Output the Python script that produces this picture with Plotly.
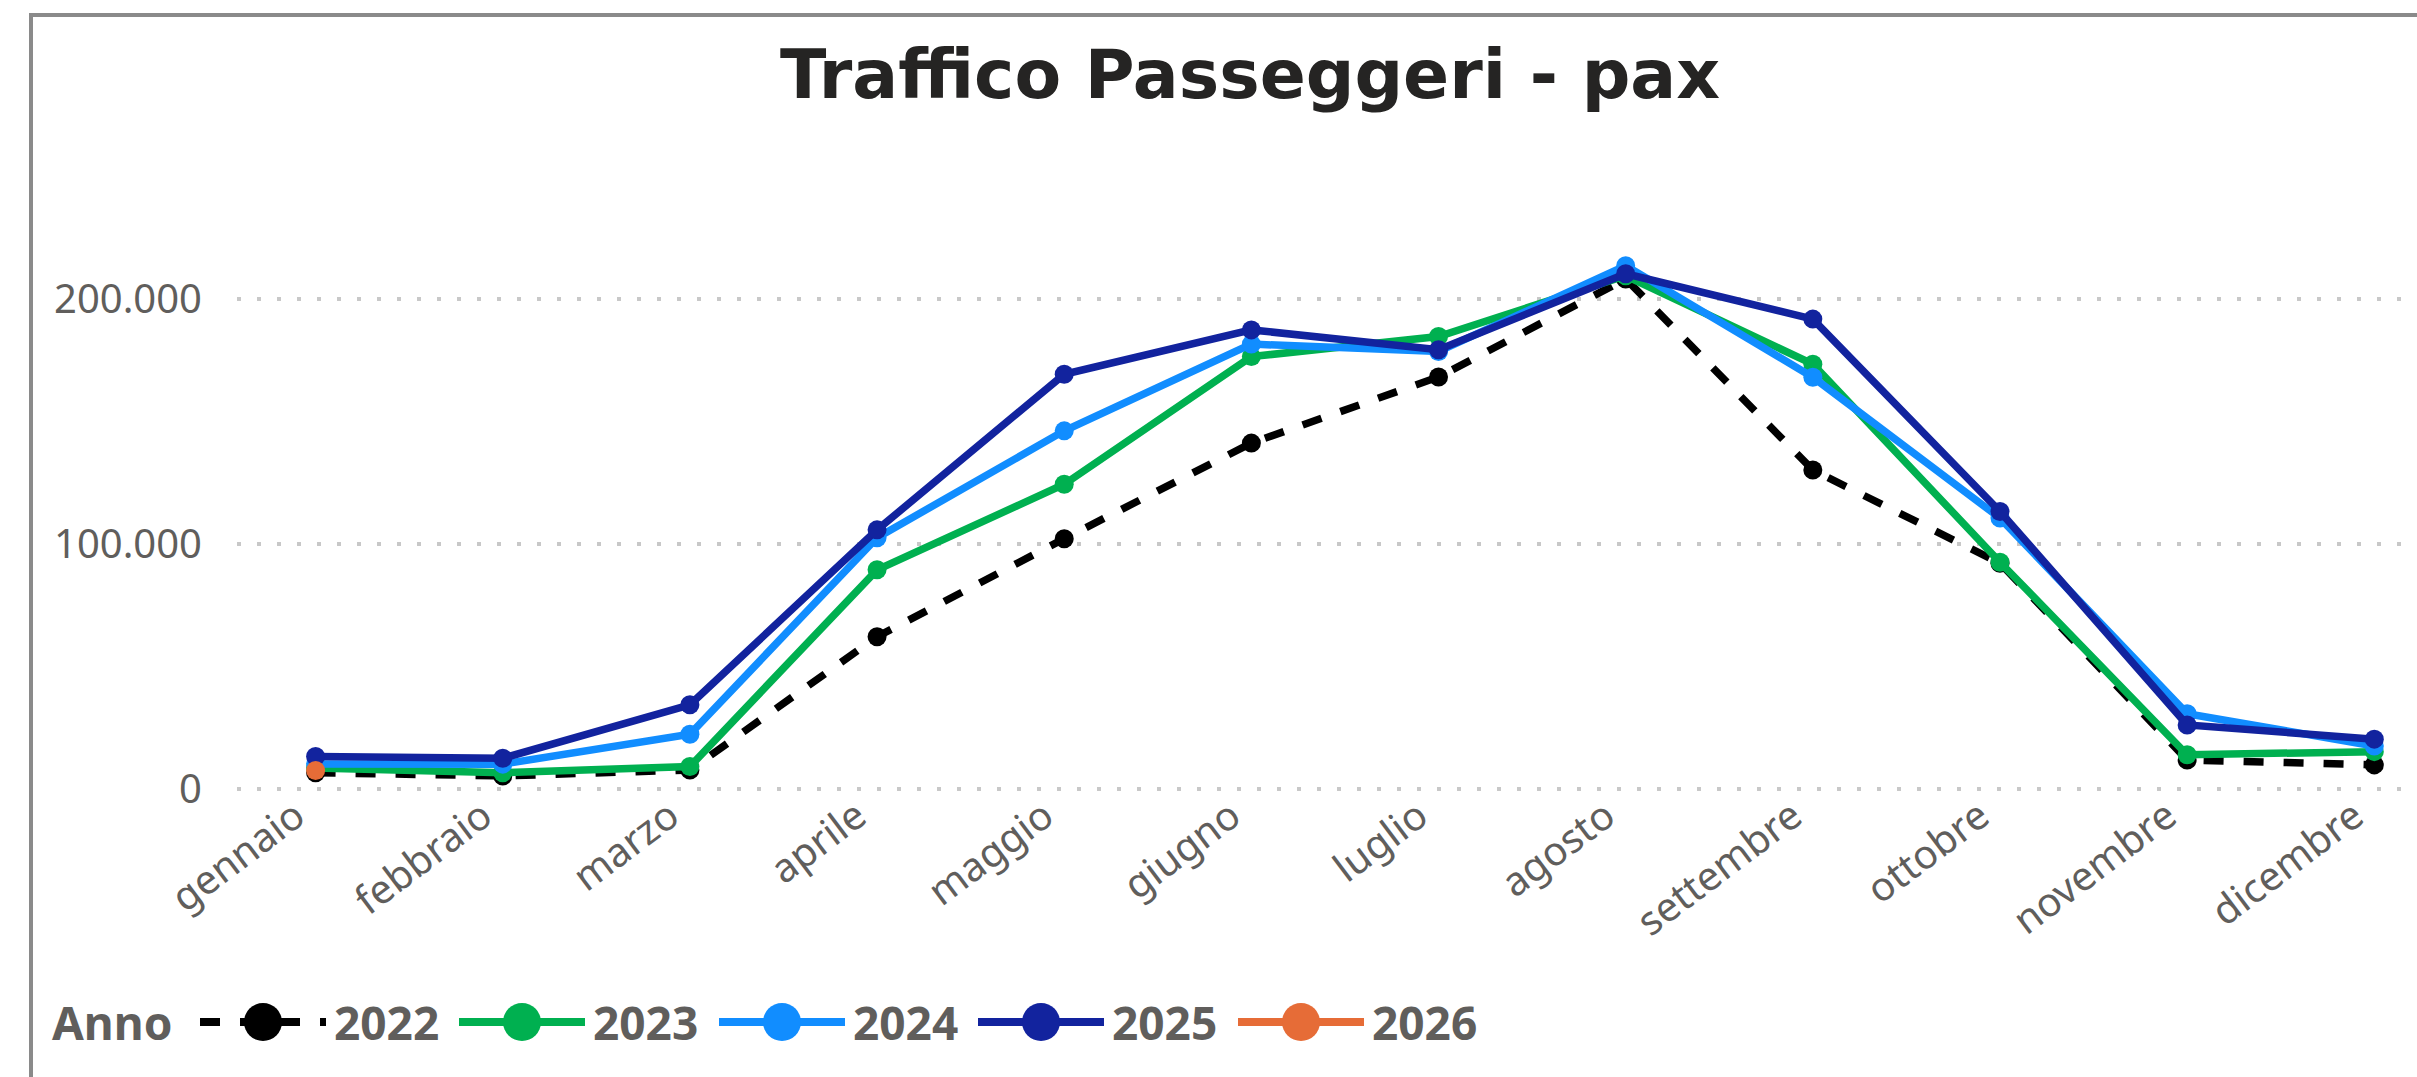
import plotly.graph_objects as go

# ---------------- data ----------------
mesi = ["gennaio", "febbraio", "marzo", "aprile", "maggio", "giugno",
        "luglio", "agosto", "settembre", "ottobre", "novembre", "dicembre"]
pax_2022 = [6500, 5200, 7600, 62000, 102000, 141000, 168000, 208000, 130000, 92000, 11700, 9700]
pax_2023 = [8400, 6500, 9000, 89300, 124200, 176300, 184500, 209300, 173200, 92400, 13800, 15100]
pax_2024 = [10100, 10000, 22200, 102400, 146000, 181400, 178400, 213400, 167900, 110400, 30600, 17400]
pax_2025 = [13100, 12400, 34200, 105600, 169100, 187200, 179100, 210100, 191600, 113100, 26000, 20200]
pax_2026 = [7400]
anni = ["2022", "2023", "2024", "2025", "2026"]
colori = ["#000000", "#00B050", "#118DFF", "#12239E", "#E66C37"]
serie = [pax_2022, pax_2023, pax_2024, pax_2025, pax_2026]
y_ticks = [0, 100000, 200000]

W, H = 2417, 1077
ML, MR, MT, MB = 237, 12, 176, 281
PW, PH = W - ML - MR, H - MT - MB


def px2x(p):
    return (p - ML) / PW


def py2y(p):
    return (H - MB - p) / PH


GRAY = "#605E5C"
FONT = "Noto Sans, Open Sans, sans-serif"

fig = go.Figure()
for anno, vals, col in zip(anni, serie, colori):
    fig.add_trace(go.Scatter(
        x=mesi[:len(vals)], y=vals, name=anno, mode="lines+markers",
        line=dict(color=col, width=7.5, dash="20px,20px" if anno == "2022" else "solid"),
        marker=dict(color=col, size=19, line=dict(width=0)),
        cliponaxis=False, showlegend=False,
    ))

shapes = []
annotations = []
# frame
shapes.append(dict(type="line", xref="paper", yref="paper",
                   x0=px2x(31), x1=px2x(W + 5), y0=py2y(15), y1=py2y(15),
                   line=dict(color="#8A8A8A", width=4)))
shapes.append(dict(type="line", xref="paper", yref="paper",
                   x0=px2x(31), x1=px2x(31), y0=py2y(13), y1=py2y(H + 5),
                   line=dict(color="#8A8A8A", width=4)))

# custom legend
leg_y = 1022
annotations.append(dict(text="<b>Anno</b>", xref="paper", yref="paper",
                        x=px2x(50), y=py2y(leg_y), xanchor="left", yanchor="middle",
                        showarrow=False, font=dict(family=FONT, size=46, color=GRAY)))
line_starts = [200, 459, 719, 978, 1238]
for i, (anno, col) in enumerate(zip(anni, colori)):
    l0 = line_starts[i]
    l1 = l0 + 126
    cx = (l0 + l1) / 2
    shapes.append(dict(type="line", xref="paper", yref="paper",
                       x0=px2x(l0), x1=px2x(l1), y0=py2y(leg_y), y1=py2y(leg_y),
                       line=dict(color=col, width=8,
                                 dash="20px,20px" if anno == "2022" else "solid")))
    shapes.append(dict(type="circle", xref="paper", yref="paper",
                       xsizemode="pixel", ysizemode="pixel",
                       xanchor=px2x(cx), yanchor=py2y(leg_y),
                       x0=-19, x1=19, y0=-19, y1=19,
                       fillcolor=col, line=dict(width=0)))
    annotations.append(dict(text="<b>" + anno + "</b>", xref="paper", yref="paper",
                            x=px2x(l1 + 6), y=py2y(leg_y), xanchor="left", yanchor="middle",
                            showarrow=False, font=dict(family=FONT, size=46, color=GRAY)))

fig.update_layout(
    width=W, height=H,
    margin=dict(l=ML, r=MR, t=MT, b=MB, pad=0),
    paper_bgcolor="white", plot_bgcolor="white",
    separators=",.",
    showlegend=False,
    title=dict(text="<b>Traffico Passeggeri - pax</b>", xref="paper", x=px2x(1250),
               xanchor="center", yref="container", y=1 - 74 / H, yanchor="middle",
               font=dict(family="DejaVu Sans, sans-serif", size=68, color="#252423")),
    xaxis=dict(type="category", range=[-0.42, 11.164], tickangle=-37,
               showgrid=False, showline=False, zeroline=False, ticks="",
               ticklabelstandoff=-12, ticklabelshift=-20,
               tickfont=dict(family=FONT, size=40, color=GRAY)),
    yaxis=dict(range=[-3000, 250000], tickvals=y_ticks, tickformat=",.0f",
               showgrid=True, gridcolor="#C8C8C8", griddash="4px,16px", gridwidth=4,
               showline=False, zeroline=False, ticks="", ticklabelstandoff=34,
               tickfont=dict(family=FONT, size=40, color=GRAY)),
    shapes=shapes, annotations=annotations,
)

fig.write_html("out.html", config={"displayModeBar": False},
               post_script="document.body.style.margin='0';document.body.style.overflow='hidden';")
